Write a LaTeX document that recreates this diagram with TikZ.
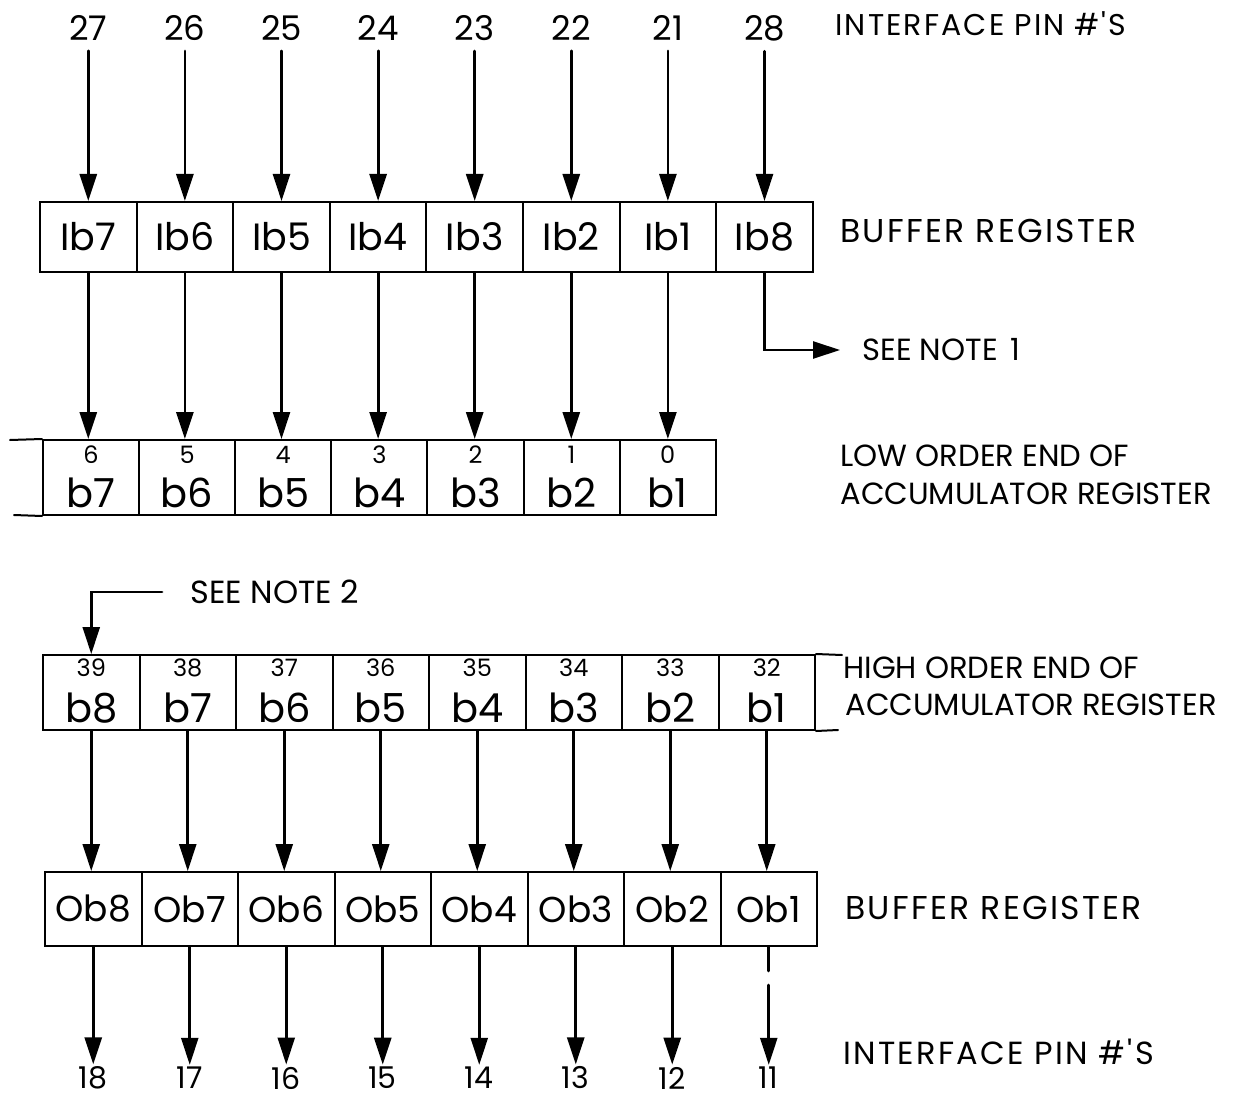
\documentclass[tikz,border=0pt]{standalone}
\usepackage{fontspec}
\setmainfont{Poppins}
\newfontfamily\widefont[LetterSpace=7]{Poppins}
\usetikzlibrary{arrows.meta}
\begin{document}
\begin{tikzpicture}[x=0.5pt,y=-0.5pt,
  line cap=round,
  boxline/.style={line width=1pt},
  arr/.style={line width=1.4pt,-{Triangle[length=13.5pt,width=8.5pt]}},
  cellA/.style={draw,boxline,minimum width=48.3pt,minimum height=35pt,inner sep=0pt,font=\fontsize{19}{19}\selectfont},
  cellB/.style={draw,boxline,minimum width=48.05pt,minimum height=37.5pt,inner sep=0pt},
  cellC/.style={draw,boxline,minimum width=48.25pt,minimum height=37.5pt,inner sep=0pt},
  cellD/.style={draw,boxline,minimum width=48.25pt,minimum height=37pt,inner sep=0pt,font=\fontsize{18}{18}\selectfont},
  bitno/.style={inner sep=0pt,font=\fontsize{12}{12}\selectfont},
  bitlab/.style={inner sep=0pt,font=\fontsize{20}{20}\selectfont},
  pin/.style={inner sep=0pt,font=\fontsize{17}{17}\selectfont},
  title/.style={inner sep=0pt,anchor=west,font=\fontsize{15.3}{15.3}\selectfont,align=left},
  widetitle/.style={inner sep=0pt,anchor=west,font=\widefont\fontsize{16}{16}\selectfont}]
\useasboundingbox (0,0) rectangle (1233,1097);

% ---------- top: input pins -> input buffer register
\foreach \lab [count=\i from 0] in {Ib7,Ib6,Ib5,Ib4,Ib3,Ib2,Ib1,Ib8}
  \node[cellA] (ib\i) at ({88.3+96.6*\i},237) {\lab};
\foreach \p [count=\i from 0] in {27,26,25,24,23,22,21,28}
  \node[pin] (pa\i) at ({88.3+96.6*\i},28) {\p};
\foreach \i in {0,...,7}
  \draw[arr] (pa\i.south) ++(0,10) -- (ib\i.north);

\node[widetitle,font=\widefont\fontsize{15}{15}\selectfont] (tpin) at (835,24) {INTERFACE PIN \#'S};
\node[widetitle,font=\widefont\fontsize{16.5}{16.5}\selectfont] (tbuf1) at (840,231) {BUFFER REGISTER};

% ---------- low order end of accumulator
\foreach \n/\lab [count=\i from 0] in {6/b7,5/b6,4/b5,3/b4,2/b3,1/b2,0/b1}{
  \node[cellB] (lb\i) at ({43+96.1*\i+48.05},477.5) {};
  \node[bitno] at ({43+96.1*\i+48.05},455) {\n};
  \node[bitlab] at ({43+96.1*\i+48.05},493) {\lab};
}
\coordinate (loL1) at (10,440);
\coordinate (loL2) at (14,515);
\draw[boxline] (loL1) -- (lb0.north west);
\draw[boxline] (loL2) -- (lb0.south west);
\foreach \i in {0,...,6}
  \draw[arr] (ib\i.south) -- (ib\i.south |- lb\i.north);
\coordinate (n1) at (840,350);
\node[title] (note1) at (862,350) {SEE NOTE \,1};
\draw[arr] (ib7.south) |- (n1);
\node[title] (tlow1) at (840,456) {LOW ORDER END OF};
\node[title] (tlow2) at (840,494) {ACCUMULATOR REGISTER};

% ---------- high order end of accumulator
\foreach \n/\lab [count=\i from 0] in {39/b8,38/b7,37/b6,36/b5,35/b4,34/b3,33/b2,32/b1}{
  \node[cellC] (hb\i) at ({43+96.5*\i+48.25},692.5) {};
  \node[bitno] at ({43+96.5*\i+48.25},668) {\n};
  \node[bitlab] at ({43+96.5*\i+48.25},708) {\lab};
}
\coordinate (hiR1) at (842,655);
\coordinate (hiR2) at (838,730);
\draw[boxline] (hb7.north east) -- (hiR1);
\draw[boxline] (hb7.south east) -- (hiR2);
\coordinate (n2) at (162,592);
\node[title,font=\fontsize{16}{16}\selectfont] (note2) at (190,592) {SEE NOTE 2};
\draw[arr] (n2) -| (hb0.north);
\node[title] (thigh1) at (843,668) {HIGH ORDER END OF};
\node[title] (thigh2) at (845,705) {ACCUMULATOR REGISTER};

% ---------- output buffer register -> output pins
\foreach \lab [count=\i from 0] in {Ob8,Ob7,Ob6,Ob5,Ob4,Ob3,Ob2,Ob1}
  \node[cellD] (ob\i) at ({45+96.5*\i+48.25},909) {\lab};
\foreach \i in {0,...,7}
  \draw[arr] (hb\i.south) -- (hb\i.south |- ob\i.north);
\foreach \p [count=\i from 0] in {18,17,16,15,14,13,12,11}
  \node[pin,font=\fontsize{15}{15}\selectfont] (pb\i) at ({93+96.5*\i},1078) {\p};
\foreach \i in {0,...,6}
  \draw[arr,shorten >=1pt] (ob\i.south) -- (ob\i.south |- pb\i.north);
\draw[arr,shorten >=1pt,dash pattern=on 12pt off 7pt on 100pt] (ob7.south) -- (ob7.south |- pb7.north);
\node[widetitle,font=\widefont\fontsize{16.5}{16.5}\selectfont] (tbuf2) at (845,908) {BUFFER REGISTER};
\node[widetitle,font=\widefont\fontsize{16}{16}\selectfont] (tpin2) at (843,1052) {INTERFACE PIN \#'S};
\end{tikzpicture}
\end{document}
